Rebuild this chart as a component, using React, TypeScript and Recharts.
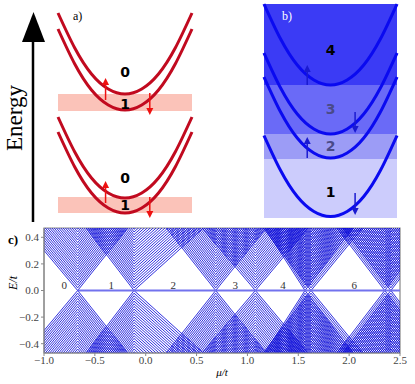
import {
  LineChart,
  ComposedChart,
  Line,
  Scatter,
  XAxis,
  YAxis,
  ReferenceArea,
  ReferenceLine,
} from 'recharts'

// panels a) and b): every band is the same bowl, shifted up or down
const bowlX = [-1, -0.75, -0.5, -0.25, 0, 0.25, 0.5, 0.75, 1]
const bowlRise = [81, 46, 20, 5, 0, 5, 20, 46, 81]

// panel a) (energy in px-like units, 0 = bottom of panel)
const aCurveMins = [131, 115, 27, 12]
const aBands = [
  { from: 114, to: 131 },
  { from: 12, to: 28 },
]
const aArrows = [
  { x: -0.29, from: 125, to: 147 },
  { x: 0.37, from: 132, to: 110 },
  { x: -0.29, from: 22, to: 44 },
  { x: 0.37, from: 28, to: 7 },
]
const aLabels = [
  { x: 0, y: 153, text: '0', color: '#000' },
  { x: 0, y: 121, text: '1', color: '#000' },
  { x: 0, y: 47, text: '0', color: '#000' },
  { x: 0, y: 20, text: '1', color: '#000' },
]

// panel b)
const bCurveMins = [133, 84, 60, 1.5]
const bBands = [
  { from: 133, to: 214, fill: '#3b3bf5' },
  { from: 84, to: 133, fill: '#6a6af7' },
  { from: 59, to: 84, fill: '#9c9cf6' },
  { from: 0, to: 59, fill: '#ccccfc' },
]
const bArrows = [
  { x: -0.35, from: 133, to: 153 },
  { x: 0.37, from: 106, to: 85 },
  { x: -0.35, from: 60, to: 81 },
  { x: 0.37, from: 25, to: 3 },
]
const bLabels = [
  { x: 0, y: 168, text: '4', color: '#000' },
  { x: 0, y: 109, text: '3', color: '#4a4a88' },
  { x: 0, y: 72, text: '2', color: '#4a4a88' },
  { x: 0, y: 26, text: '1', color: '#000' },
]

// panel c): gap closings in mu/t and the slopes of the level fans on each side
const crossings = [-0.669, -0.115, 0.688, 1.078, 1.566, 1.625, 2.35, 2.41]
const slopeLeft = [0.91, 1.0, 0.97, 0.9, 1.19, 1.0, 1.0, 1.0]
const slopeRight = [0.96, 0.69, 0.95, 0.91, 1.0, 0.93, 1.0, 1.0]
const levelStep = 0.02
const levelCount = 25
const edgeE = 0.5
const zeroMode = [
  { x: -0.669, y: 0 },
  { x: 2.5, y: 0 },
]
const regionLabels = [
  { x: -0.8, text: '0' },
  { x: -0.34, text: '1' },
  { x: 0.27, text: '2' },
  { x: 0.88, text: '3' },
  { x: 1.35, text: '4' },
  { x: 2.05, text: '6' },
]
const xTicks = [-1, -0.5, 0, 0.5, 1, 1.5, 2, 2.5]
const yTicks = [-0.4, -0.2, 0, 0.2, 0.4]

const serif = '"Liberation Serif", serif'
const sans = '"DejaVu Sans", sans-serif'

function bowl(min: number) {
  return bowlX.map((x, i) => ({ x, y: min + bowlRise[i] }))
}

// nested V's (or Λ's below zero) around one gap closing
function fan(c: number, sL: number, sR: number, sign: number) {
  const pts: { x: number; y: number | null }[] = []
  for (let j = 0; j < levelCount; j++) {
    const e0 = j * levelStep
    const reach = edgeE - e0
    pts.push({ x: c - reach / sL, y: sign * edgeE })
    pts.push({ x: c, y: sign * e0 })
    pts.push({ x: c + reach / sR, y: sign * edgeE })
    pts.push({ x: c, y: null })
  }
  return pts
}

const fmt = (v: number) => (v < 0 ? `\u2212${Math.abs(v).toFixed(1)}` : v.toFixed(1))

function arrowShape(color: string) {
  return (p: any) => {
    const dir = Math.sign(p.y2 - p.y1)
    const base = p.y2 - dir * 7
    return (
      <g>
        <line x1={p.x1} y1={p.y1} x2={p.x2} y2={base} stroke={color} strokeWidth={1.5} />
        <path d={`M${p.x2 - 3.5},${base} L${p.x2 + 3.5},${base} L${p.x2},${p.y2} Z`} fill={color} />
      </g>
    )
  }
}

function digitShape(p: any) {
  return (
    <text
      x={p.cx}
      y={p.cy}
      textAnchor="middle"
      dominantBaseline="central"
      fontFamily={sans}
      fontWeight="bold"
      fontSize={14}
      fill={p.payload.color}
    >
      {p.payload.text}
    </text>
  )
}

function PanelA() {
  return (
    <ComposedChart width={154} height={225} margin={{ top: 0, right: 10, bottom: 0, left: 10 }}>
      <XAxis type="number" dataKey="x" domain={[-1, 1]} hide />
      <YAxis type="number" dataKey="y" domain={[0, 225]} hide />
      {aBands.map((b, i) => (
        <ReferenceArea key={i} x1={-1} x2={1} y1={b.from} y2={b.to} fill="#fbc3b9" fillOpacity={1} stroke="none" />
      ))}
      {aCurveMins.map((m, i) => (
        <Line key={i} data={bowl(m)} dataKey="y" type="natural" stroke="#c10a1f" strokeWidth={3} dot={false} activeDot={false} isAnimationActive={false} />
      ))}
      {aArrows.map((a, i) => (
        <ReferenceLine key={i} segment={[{ x: a.x, y: a.from }, { x: a.x, y: a.to }]} shape={arrowShape('#ee1111')} />
      ))}
      <Scatter data={aLabels} dataKey="y" shape={digitShape} isAnimationActive={false} />
    </ComposedChart>
  )
}

function PanelB() {
  return (
    <ComposedChart width={153} height={222} margin={{ top: 4, right: 10, bottom: 4, left: 10 }}>
      <XAxis type="number" dataKey="x" domain={[-1, 1]} hide />
      <YAxis type="number" dataKey="y" domain={[0, 214]} hide />
      {bBands.map((b, i) => (
        <ReferenceArea key={i} x1={-1} x2={1} y1={b.from} y2={b.to} fill={b.fill} fillOpacity={1} stroke="none" />
      ))}
      {bCurveMins.map((m, i) => (
        <Line key={i} data={bowl(m)} dataKey="y" type="natural" stroke="#0a0af0" strokeWidth={3} dot={false} activeDot={false} isAnimationActive={false} />
      ))}
      {bArrows.map((a, i) => (
        <ReferenceLine key={i} segment={[{ x: a.x, y: a.from }, { x: a.x, y: a.to }]} shape={arrowShape('#1a1ad0')} />
      ))}
      <Scatter data={bLabels} dataKey="y" shape={digitShape} isAnimationActive={false} />
    </ComposedChart>
  )
}

function PanelC() {
  const tickStyle = { fontSize: 11, fill: '#444', fontFamily: serif }
  return (
    <LineChart width={415} height={164} margin={{ top: 8, right: 15, bottom: 11, left: 4 }}>
      <XAxis
        type="number"
        dataKey="x"
        domain={[-1, 2.5]}
        ticks={xTicks}
        tickFormatter={fmt}
        allowDataOverflow
        tick={tickStyle}
        tickSize={3}
        tickMargin={0}
        stroke="#888"
        height={20}
      />
      <YAxis
        type="number"
        domain={[-0.47, 0.47]}
        ticks={yTicks}
        tickFormatter={fmt}
        allowDataOverflow
        tick={tickStyle}
        tickSize={3}
        stroke="#888"
        width={40}
      />
      {crossings.map((c, i) =>
        [1, -1].map((s) => (
          <Line
            key={`${i}-${s}`}
            data={fan(c, slopeLeft[i], slopeRight[i], s)}
            dataKey="y"
            type="linear"
            stroke="#0c0cd8"
            strokeWidth={0.85}
            dot={false}
            activeDot={false}
            isAnimationActive={false}
          />
        ))
      )}
      <Line data={zeroMode} dataKey="y" stroke="#7272ee" strokeWidth={2.2} dot={false} activeDot={false} isAnimationActive={false} />
      {regionLabels.map((r, i) => (
        <ReferenceLine
          key={i}
          segment={[{ x: r.x, y: 0.045 }, { x: r.x, y: 0.045 }]}
          shape={(p: any) => (
            <text x={p.x1} y={p.y1} textAnchor="middle" dominantBaseline="central" fontFamily={serif} fontSize={11} fill="#333">
              {r.text}
            </text>
          )}
        />
      ))}
      <ReferenceArea x1={-1} x2={2.5} y1={-0.47} y2={0.47} fill="none" stroke="#888" strokeWidth={1.2} ifOverflow="visible" />
    </LineChart>
  )
}

export default function App() {
  return (
    <div style={{ position: 'absolute', left: 0, top: 0, width: 415, height: 384, background: '#fff', overflow: 'hidden' }}>
      <div style={{ position: 'absolute', left: 48, top: 0 }}>
        <PanelA />
      </div>
      <div style={{ position: 'absolute', left: 254, top: 0 }}>
        <PanelB />
      </div>
      <div style={{ position: 'absolute', left: 0, top: 220 }}>
        <PanelC />
      </div>
      <svg width={415} height={384} style={{ position: 'absolute', left: 0, top: 0, pointerEvents: 'none' }}>
        <line x1={33} y1={222} x2={33} y2={40} stroke="#000" strokeWidth={2.5} />
        <path d="M22,42 L45,42 L33.5,12 Z" fill="#000" />
        <text x={14} y={118} transform="rotate(-90 14 118)" textAnchor="middle" dominantBaseline="central" fontFamily={serif} fontSize={23}>
          Energy
        </text>
        <text x={73} y={20} fontFamily={serif} fontSize={12}>a)</text>
        <text x={282} y={20} fontFamily={serif} fontSize={12} fill="#fff">b)</text>
        <text x={8} y={244} fontFamily={serif} fontSize={13} fontWeight="bold">c)</text>
        <text x={13} y={283} transform="rotate(-90 13 283)" textAnchor="middle" dominantBaseline="central" fontFamily={serif} fontStyle="italic" fontSize={12}>
          E/t
        </text>
        <text x={222} y={376} textAnchor="middle" fontFamily={serif} fontStyle="italic" fontSize={11}>
          μ/t
        </text>
      </svg>
    </div>
  )
}
